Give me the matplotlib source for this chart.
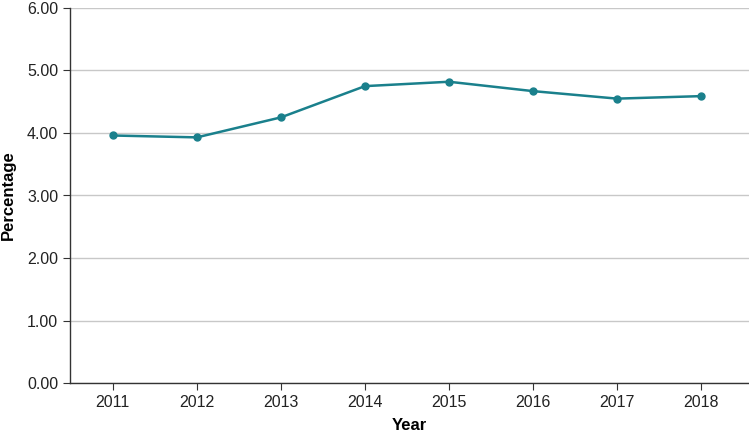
import matplotlib
matplotlib.use("Agg")
import matplotlib.pyplot as plt

years = ["2011", "2012", "2013", "2014", "2015", "2016", "2017", "2018"]
values = [3.96, 3.93, 4.25, 4.75, 4.82, 4.67, 4.55, 4.59]
yticks = [0, 1, 2, 3, 4, 5, 6]

plt.rcParams['font.family'] = ['Liberation Sans', 'DejaVu Sans']

fig = plt.figure(figsize=(7.49, 4.36), dpi=100)
ax = fig.add_axes([70/749, 53/436, 679/749, 375/436])

x = list(range(len(years)))
ax.plot(x, values, color="#1a808c", lw=1.8, marker="o", ms=5, zorder=3)

ax.set_ylim(0, 6)
ax.set_xlim(-0.51, 7.57)
ax.set_yticks(yticks)
ax.set_yticklabels([f"{v:.2f}" for v in yticks], fontsize=11.5)
ax.set_xticks(x)
ax.set_xticklabels(years, fontsize=11.5)
ax.yaxis.grid(True, color="#c8c8c8", lw=1)
ax.set_axisbelow(True)
for s in ["top", "right"]:
    ax.spines[s].set_visible(False)
for s in ["left", "bottom"]:
    ax.spines[s].set_color("#333333")
    ax.spines[s].set_linewidth(1)
ax.tick_params(axis="both", length=5, color="#333333", labelcolor="#222222")
ax.set_xlabel("Year", fontsize=12, fontweight="bold", labelpad=6)
ax.set_ylabel("Percentage", fontsize=12, fontweight="bold", labelpad=8)

fig.savefig("out.png", dpi=100)
